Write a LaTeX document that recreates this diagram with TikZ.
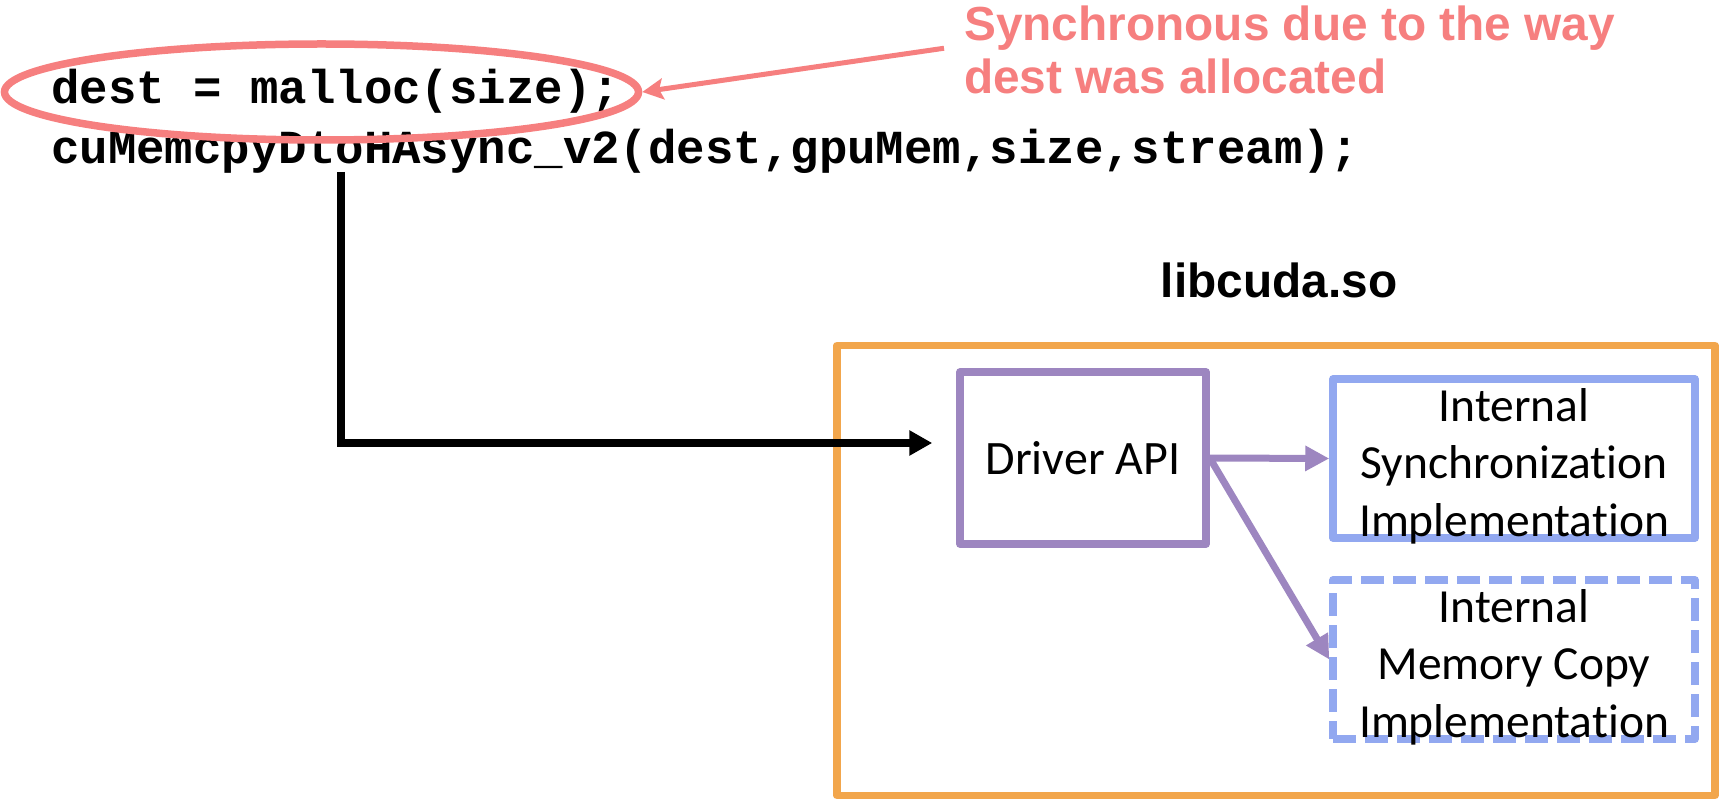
\documentclass[tikz,border=0pt]{standalone}
\usepackage{fontspec}
\setmonofont{Liberation Mono}
\newfontfamily\arialfont{Liberation Sans}
\newfontfamily\gillfont[Ligatures=NoCommon]{Carlito}
\usetikzlibrary{arrows.meta,shapes.geometric}
\definecolor{salmon}{RGB}{246,127,127}
\definecolor{libedge}{RGB}{242,166,76}
\definecolor{apiedge}{RGB}{157,134,192}
\definecolor{impledge}{RGB}{146,168,240}
\begin{document}
\begin{tikzpicture}[x=1pt,y=-1pt,
  code/.style={font=\ttfamily\bfseries\fontsize{47.4}{57}\selectfont, anchor=base west, inner sep=0pt},
  heading/.style={font=\arialfont\bfseries\fontsize{47.8}{53}\selectfont, inner sep=0pt},
  boxtext/.style={font=\gillfont\fontsize{47.5}{57.5}\selectfont, align=center, inner sep=0pt},
  frame/.style={line width=7.5pt, line join=round, inner sep=0pt},
  apibox/.style={frame, draw=apiedge, minimum width=246pt, minimum height=172pt,
                 font=\gillfont\fontsize{48}{57.5}\selectfont},
  implbox/.style={frame, draw=impledge, minimum width=362pt, minimum height=159pt},
  dashedbox/.style={implbox, dash pattern=on 23pt off 9pt},
  libbox/.style={frame, draw=libedge, minimum width=878pt, minimum height=450pt},
  apiarrow/.style={draw=apiedge, line width=7pt, -{Triangle[length=24pt,width=24pt]}},
  callarrow/.style={draw=black, line width=8pt, -{Triangle[length=23pt,width=24pt]}},
  notearrow/.style={draw=salmon, line width=5pt, -{Stealth[length=21pt,width=21pt,inset=4pt]}}
]
\useasboundingbox (0,0) rectangle (1719,799);

% source lines
\node[code] (alloc) at (51,104) {dest = malloc(size);};
\node[code] (copy) at (51,164) {cuMemcpyDtoHAsync\_v2(dest,gpuMem,size,stream);};

% highlight around the allocation
\node[draw=salmon, line width=7.5pt, ellipse, minimum width=634pt, minimum height=96pt, inner sep=0pt] (oval) at (321.5,92) {};

% annotation
\node[heading, text=salmon, align=left, anchor=north west] (note) at (964,6)
  {Synchronous due to the way\\dest was allocated};
\draw[notearrow] ([xshift=-20pt,yshift=2pt]note.west) -- (oval.east);

% library
\node[heading, anchor=base] (libname) at (1279,298) {libcuda.so};
\node[libbox] (lib) at (1276,570.5) {};

\node[apibox] (api) at (1083,458) {Driver API};

\node[implbox] (sync) at (1514,458.5) {};
\node[boxtext] (synctext) at (1514,466) {Internal\\Synchronization\\Implementation};

\node[dashedbox] (memcpy) at (1514,659.5) {};
\node[boxtext] (memcpytext) at (1514,667) {Internal\\Memory Copy\\Implementation};

% connectors
\coordinate (callsite) at (341,172);
\draw[callarrow] (callsite) |- ([xshift=-24pt,yshift=15pt]api.west);
\draw[apiarrow] (api.east) -- (sync.west);
\draw[apiarrow] (api.east) -- (memcpy.west);
\end{tikzpicture}
\end{document}
